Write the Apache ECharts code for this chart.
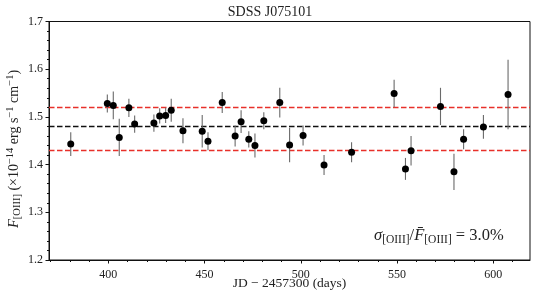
<!DOCTYPE html>
<html><head><meta charset="utf-8">
<script src="https://cdn.jsdelivr.net/npm/echarts@6/dist/echarts.min.js"></script>
<style>html,body{margin:0;padding:0;background:#fff}#c{width:540px;height:303px}</style>
</head><body><div id="c"></div>
<script>
const days = [380.5, 399.5, 402.6, 405.7, 410.7, 413.7, 423.7, 426.7, 429.8, 432.7, 438.8, 448.8, 451.8, 459.2, 465.9, 469.0, 473.0, 476.2, 480.8, 489.1, 494.2, 501.2, 512.1, 526.4, 548.5, 554.4, 557.3, 572.6, 579.6, 584.6, 594.9, 607.7];
const flux = [1.443, 1.528, 1.524, 1.457, 1.519, 1.485, 1.487, 1.502, 1.503, 1.514, 1.471, 1.470, 1.449, 1.530, 1.460, 1.490, 1.453, 1.440, 1.492, 1.530, 1.441, 1.461, 1.399, 1.426, 1.549, 1.391, 1.429, 1.522, 1.385, 1.453, 1.479, 1.547];
const fluxErr = [0.025, 0.019, 0.029, 0.039, 0.019, 0.018, 0.018, 0.016, 0.016, 0.024, 0.026, 0.034, 0.019, 0.022, 0.022, 0.024, 0.017, 0.025, 0.018, 0.031, 0.036, 0.021, 0.021, 0.021, 0.029, 0.023, 0.031, 0.039, 0.038, 0.021, 0.025, 0.073];
const meanFlux = 1.476;
const sigmaLow = 1.432;
const sigmaHigh = 1.520;
const xTickLabels = [400, 450, 500, 550, 600];
const xMinorTicks = [370,380,390,410,420,430,440,460,470,480,490,510,520,530,540,560,570,580,590,610];
const FONT = '"Liberation Serif", "DejaVu Serif", serif';

const pts = days.map((d, i) => [d, flux[i], fluxErr[i]]);
const chart = echarts.init(document.getElementById('c'), null, {renderer: 'canvas'});
chart.setOption({
  animation: false,
  backgroundColor: '#fff',
  title: {text: 'SDSS J075101', left: 'center', top: 0,
    textStyle: {fontFamily: FONT, fontSize: 14, fontWeight: 'normal', color: '#222'}},
  grid: {left: 49, right: 10, top: 21.5, bottom: 43, containLabel: false, outerBoundsMode: 'none',
    show: true, borderColor: '#111', borderWidth: 1, backgroundColor: 'transparent'},
  xAxis: [{
    type: 'value', min: 369.2, max: 619.1,
    name: 'JD − 2457300 (days)', nameLocation: 'middle', nameGap: 16, nameMoveOverlap: false,
    nameTextStyle: {fontFamily: FONT, fontSize: 13.5, color: '#222', verticalAlign: 'top'},
    axisLine: {show: true, onZero: false, lineStyle: {color: '#111', width: 1}},
    axisTick: {show: true, length: 3.5, customValues: xTickLabels, lineStyle: {color: '#111'}},
    axisLabel: {customValues: xTickLabels, fontFamily: FONT, fontSize: 12, color: '#222', margin: 9},
    splitLine: {show: false}
  }, {
    type: 'value', min: 369.2, max: 619.1, position: 'bottom', gridIndex: 0,
    axisLine: {show: false},
    axisTick: {show: true, length: 2, customValues: xMinorTicks, lineStyle: {color: '#111'}},
    axisLabel: {show: false, customValues: xMinorTicks},
    splitLine: {show: false}
  }],
  yAxis: {
    type: 'value', min: 1.2, max: 1.7, interval: 0.1,
    axisLine: {show: true, onZero: false, lineStyle: {color: '#111', width: 1}},
    axisTick: {show: true, length: 3.5, lineStyle: {color: '#111'}},
    minorTick: {show: true, splitNumber: 5, length: 2, lineStyle: {color: '#111'}},
    axisLabel: {fontFamily: FONT, fontSize: 12, color: '#222', margin: 6, formatter: v => v.toFixed(1)},
    splitLine: {show: false}
  },
  series: [{
    type: 'custom', xAxisIndex: 0,
    data: pts,
    encode: {x: 0, y: 1},
    renderItem: function (params, api) {
      const x = api.value(0), y = api.value(1), e = api.value(2);
      const p1 = api.coord([x, y - e]);
      const p2 = api.coord([x, y + e]);
      return {type: 'line', shape: {x1: p1[0], y1: p1[1], x2: p2[0], y2: p2[1]},
        style: {stroke: '#6a6a6a', lineWidth: 1.1}};
    },
    z: 3
  }, {
    type: 'scatter', xAxisIndex: 0, data: pts.map(p => [p[0], p[1]]),
    symbol: 'circle', symbolSize: 7, itemStyle: {color: '#000', opacity: 1}, z: 5,
    markLine: {
      silent: true, symbol: 'none', label: {show: false},
      data: [
        {yAxis: sigmaHigh, lineStyle: {color: '#e8302a', type: [5.5, 2.5], width: 1.4, opacity: 1}},
        {yAxis: meanFlux, lineStyle: {color: '#111', type: [5.5, 2.5], width: 1.4, opacity: 1}},
        {yAxis: sigmaLow, lineStyle: {color: '#e8302a', type: [5.5, 2.5], width: 1.4, opacity: 1}}
      ],
      z: 2
    }
  }],
  graphic: [{
    type: 'text', x: 14, y: 149, rotation: Math.PI / 2,
    style: {
      text: '{it|F}{sub|[OIII]}{n| (×10}{sup|−14}{n| erg s}{sup|−1}{n| cm}{sup|−1}{n|)}',
      align: 'center', verticalAlign: 'middle',
      rich: {
        it: {fontFamily: FONT, fontSize: 14.5, fontStyle: 'italic', fill: '#222', lineHeight: 18, verticalAlign: 'middle'},
        n: {fontFamily: FONT, fontSize: 14, fill: '#222', lineHeight: 18, verticalAlign: 'middle'},
        sub: {fontFamily: FONT, fontSize: 10.5, fill: '#222', lineHeight: 18, verticalAlign: 'bottom'},
        sup: {fontFamily: FONT, fontSize: 10.5, fill: '#222', lineHeight: 18, verticalAlign: 'top'}
      }
    }
  }, {
    type: 'text', left: 374, top: 227,
    style: {
      text: '{s|σ}{sub|[OIII]}{n|/}{s|F̄}{sub|[OIII]}{n| = 3.0%}',
      rich: {
        s: {fontFamily: FONT, fontSize: 16.5, fontStyle: 'italic', fill: '#222', lineHeight: 20, verticalAlign: 'middle'},
        n: {fontFamily: FONT, fontSize: 16.5, fill: '#222', lineHeight: 20, verticalAlign: 'middle'},
        sub: {fontFamily: FONT, fontSize: 11.5, fill: '#222', lineHeight: 20, verticalAlign: 'bottom'}
      }
    }
  }]
});
</script></body></html>
